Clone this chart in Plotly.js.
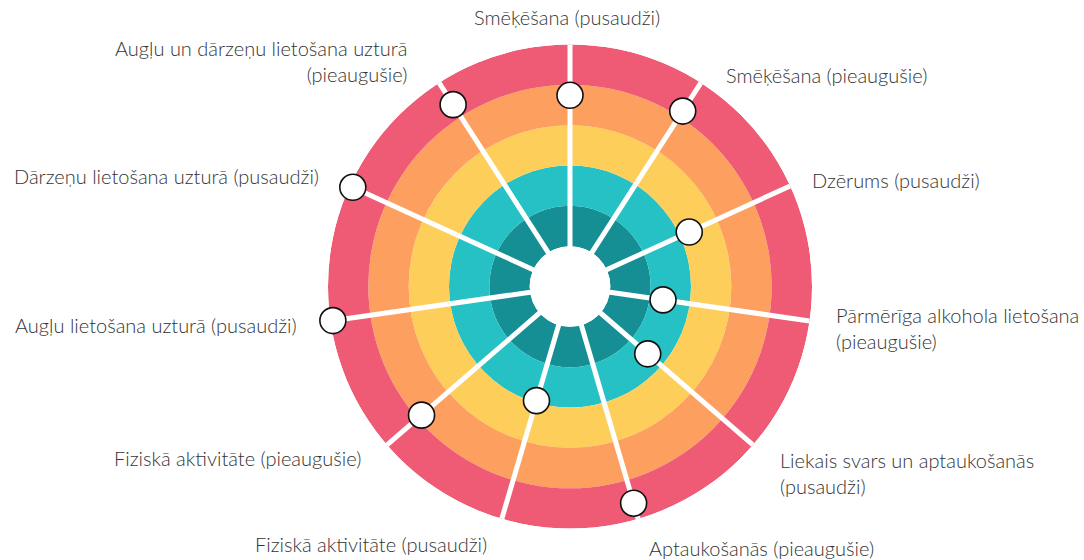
<!DOCTYPE html>
<html>
<head>
<meta charset="utf-8">
<script src="https://cdn.plot.ly/plotly-3.0.1.min.js"></script>
<style>html,body{margin:0;padding:0;background:#fff;}#chart{width:1084px;height:560px;}</style>
</head>
<body>
<div id="chart"></div>
<script>
// Categories (clockwise from top)
const categories = [
  "Smēķēšana (pusaudži)",
  "Smēķēšana (pieaugušie)",
  "Dzērums (pusaudži)",
  "Pārmērīga alkohola lietošana<br>(pieaugušie)",
  "Liekais svars un aptaukošanās<br>(pusaudži)",
  "Aptaukošanās (pieaugušie)",
  "Fiziskā aktivitāte (pusaudži)",
  "Fiziskā aktivitāte (pieaugušie)",
  "Augļu lietošana uzturā (pusaudži)",
  "Dārzeņu lietošana uzturā (pusaudži)",
  "Augļu un dārzeņu lietošana uzturā<br>(pieaugušie)"
];
// Marker values (radial position, ring scale 1..6)
const values = [4.74, 5.17, 3.25, 2.33, 2.55, 5.6, 2.95, 4.87, 5.94, 5.92, 5.36];

// Ring bands (inner radius, thickness)
const ringInner = [1, 2, 3, 4, 5];
const ringThickness = [1, 1, 1, 1, 1];

// ---- styling (kept apart from data) ----
const ringColors = ["#168F94", "#26C1C4", "#FECE5B", "#FD9F5F", "#EF5B75"];
// label placement in pixels: [x, y(center of block), xanchor]
const labelPos = [
  [567, 17, "center"],
  [724, 75, "left"],
  [810, 180, "left"],
  [834, 328, "left"],
  [778, 473, "left"],
  [647, 548, "left"],
  [489, 544, "right"],
  [363, 458, "right"],
  [299, 325, "right"],
  [321, 176, "right"],
  [409, 61, "right"]
];

const n = categories.length;
const thetas = categories.map((c, i) => i * 360 / n);
const outerR = ringInner[ringInner.length - 1] + ringThickness[ringThickness.length - 1];

const traces = [];
ringInner.forEach((b, i) => {
  traces.push({
    type: "barpolar",
    theta: [0], r: [ringThickness[i]], base: [b], width: [360],
    marker: {color: ringColors[i], line: {width: 0}},
    hoverinfo: "skip", showlegend: false
  });
});
const spT = [], spR = [];
thetas.forEach(t => { spT.push(t, t, null); spR.push(0, outerR, null); });
traces.push({
  type: "scatterpolar", mode: "lines", theta: spT, r: spR,
  line: {color: "#ffffff", width: 5}, hoverinfo: "skip", showlegend: false
});
traces.push({
  type: "barpolar", theta: [0], r: [ringInner[0]], base: [0], width: [360],
  marker: {color: "#ffffff", line: {width: 0}}, hoverinfo: "skip", showlegend: false
});
traces.push({
  type: "scatterpolar", mode: "markers", theta: thetas, r: values,
  marker: {size: 26, color: "#ffffff", line: {color: "#111111", width: 1.6}},
  showlegend: false
});

const cx = 570, cy = 286.5, R = 242, W = 1084, H = 560;
const labelFont = {family: "Lato, 'Open Sans', sans-serif", size: 20, color: "#333333", weight: 300};
const annotations = categories.map((c, i) => ({
  text: c, xref: "paper", yref: "paper",
  x: labelPos[i][0] / W, y: 1 - labelPos[i][1] / H,
  xanchor: labelPos[i][2], yanchor: "middle",
  align: labelPos[i][2] === "right" ? "right" : "left",
  showarrow: false, font: labelFont
}));

const layout = {
  width: W, height: H,
  margin: {l: 0, r: 0, t: 0, b: 0},
  paper_bgcolor: "#ffffff",
  showlegend: false,
  annotations: annotations,
  polar: {
    domain: {x: [(cx - R) / W, (cx + R) / W], y: [(H - cy - R) / H, (H - cy + R) / H]},
    bgcolor: "rgba(0,0,0,0)",
    barmode: "overlay",
    radialaxis: {range: [0, outerR], visible: false, showgrid: false},
    angularaxis: {
      type: "linear", direction: "clockwise", rotation: 90,
      tickmode: "array", tickvals: thetas, showticklabels: false,
      showgrid: false, showline: false, ticks: ""
    }
  }
};
Plotly.newPlot("chart", traces, layout, {displayModeBar: false, staticPlot: true});
</script>
</body>
</html>
